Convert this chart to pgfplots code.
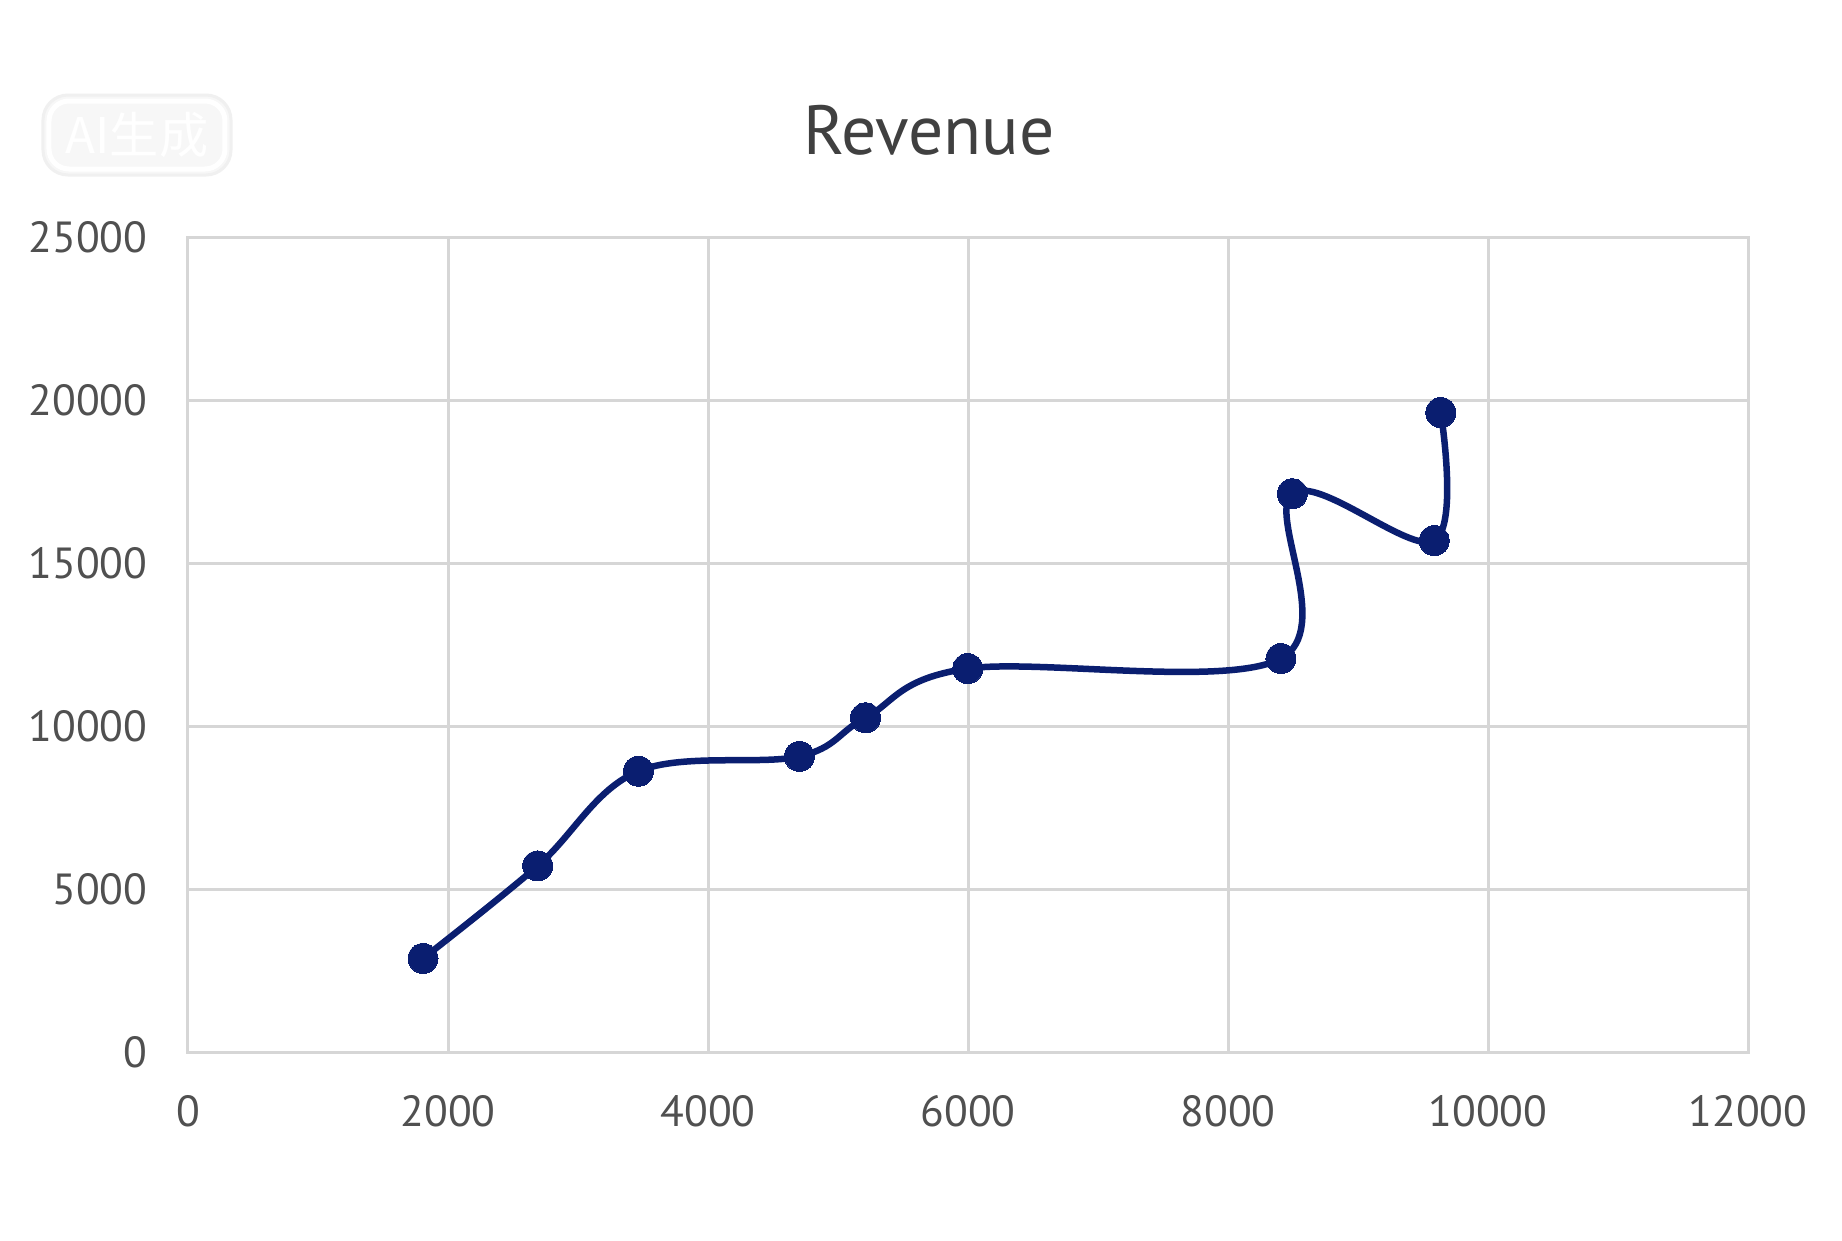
\documentclass[border=0pt]{standalone}
\usepackage{fontspec}
\setmainfont{PT Sans}
\newfontfamily\cjk{Noto Sans CJK SC}
\usepackage{pgfplots}
\pgfplotsset{compat=1.18}
\definecolor{navy}{RGB}{10,30,112}
\definecolor{gridgray}{RGB}{214,214,214}
\definecolor{ticktext}{RGB}{80,80,80}
\definecolor{titletext}{RGB}{64,64,64}
\begin{document}
\begin{tikzpicture}
\useasboundingbox (-18.8mm,-18.8mm) rectangle (165.4mm,105.2mm);
\fill[white] (-18.8mm,-18.8mm) rectangle (165.4mm,105.2mm);
\begin{axis}[
  at={(0,0)}, anchor=south west,
  scale only axis,
  width=156mm, height=81.5mm,
  xmin=0, xmax=12000, ymin=0, ymax=25000,
  xtick={0,2000,...,12000},
  ytick={0,5000,...,25000},
  scaled ticks=false,
  /pgf/number format/.cd, 1000 sep={}, assume math mode=true, /pgfplots/.cd,
  grid=major,
  major grid style={gridgray, line width=0.3mm},
  axis line style={gridgray, line width=0.3mm},
  major tick length=0pt,
  tick label style={font=\fontsize{12.4}{15}\selectfont, text=ticktext},
  yticklabel style={anchor=east, inner sep=0pt, xshift=-4mm},
  xticklabel style={anchor=north, inner sep=0pt, yshift=-4.3mm},
  clip=false,
]
\addplot[navy, line width=0.65mm, smooth, tension=0.6, mark=*, mark size=1.5mm,
  mark options={fill=navy, draw=navy, line width=0pt}] coordinates {
  (1808,2871) (2690,5710) (3465,8615) (4703,9068) (5212,10253)
  (5998,11762) (8407,12070) (8495,17125) (9586,15686) (9637,19615)
};
\end{axis}
\node[anchor=base, font=\fontsize{19.8}{23}\selectfont, text=titletext, inner sep=0pt] at (74.1mm,89.8mm) {Revenue};
\draw[black!6, line width=0.3mm, fill=black!3, rounded corners=2.5mm] (-14.5mm,87.7mm) rectangle (4.3mm,95.7mm);
\draw[white, line width=0.5mm, rounded corners=2mm] (-13.9mm,88.3mm) rectangle (3.7mm,95.1mm);
\node[text=white, font=\cjk\fontsize{14}{16}\selectfont, inner sep=0pt] at (-5.1mm,91.7mm) {AI生成};
\end{tikzpicture}
\end{document}
